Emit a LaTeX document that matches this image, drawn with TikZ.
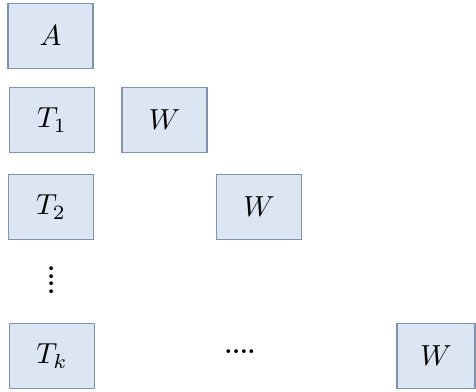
\documentclass[tikz,border=0pt]{standalone}
\usepackage{graphicx}
\definecolor{boxfill}{HTML}{DCE6F2}
\definecolor{boxdraw}{HTML}{7F93AD}
\newcommand{\bigtxt}[1]{\scalebox{2.9}{#1}}
\newcommand{\dottxt}[1]{\scalebox{2.4}{#1}}
\begin{document}
\begin{tikzpicture}[x=1pt,y=-1pt,
  cell/.style={draw=boxdraw,fill=boxfill,line width=1.2pt,inner sep=0pt,
    minimum width=85pt,minimum height=65pt},
  lbl/.style={inner sep=0pt}]
\useasboundingbox (0,0) rectangle (476,391);
\node[cell] (A)  at (50.5,36) {\bigtxt{$A$}};
\node[cell] (T1) at (52,120) {\bigtxt{$T_1$}};
\node[cell] (W1) at (164.5,120) {\bigtxt{$W$}};
\node[cell] (T2) at (51,207) {\bigtxt{$T_2$}};
\node[cell] (W2) at (259,207) {\bigtxt{$W$}};
\node[lbl,rotate=90,anchor=center] (vd) at (52,280) {\dottxt{\bfseries ....}};
\node[cell] (Tk) at (52,356) {\bigtxt{$T_k$}};
\node[lbl,anchor=center] (hd) at (240,352) {\dottxt{\bfseries ....}};
\node[cell,minimum width=78pt] (W3) at (436,356) {\bigtxt{$W$}};
\end{tikzpicture}
\end{document}
